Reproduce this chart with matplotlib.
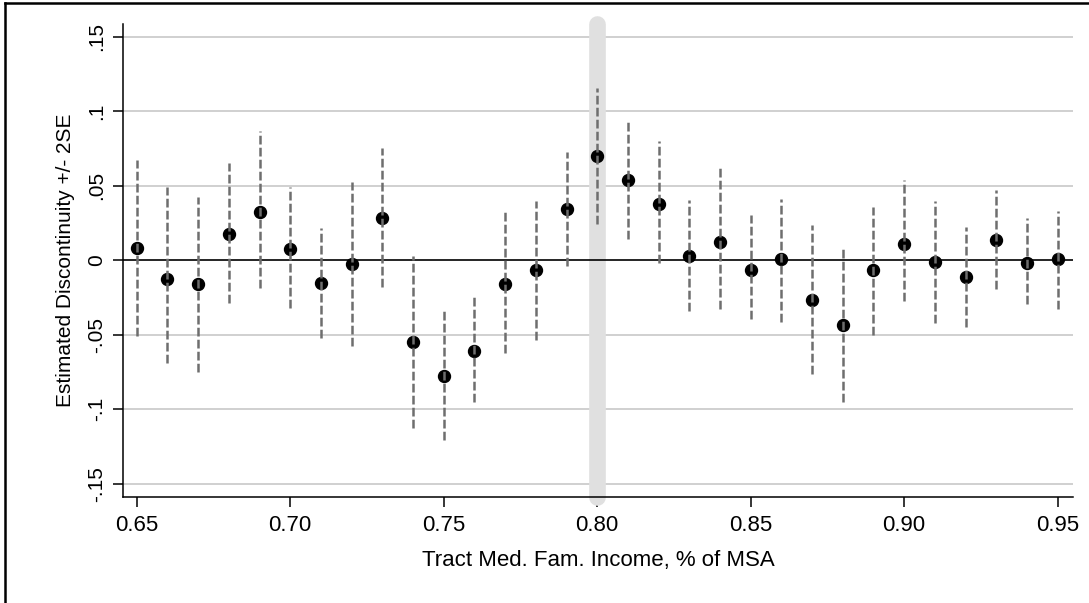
import matplotlib
matplotlib.use('Agg')
import matplotlib.pyplot as plt
from matplotlib.lines import Line2D

# bins of tract income relative to MSA, estimate and +/- 2SE bounds
bins = [0.65, 0.66, 0.67, 0.68, 0.69, 0.70, 0.71, 0.72, 0.73, 0.74, 0.75,
        0.76, 0.77, 0.78, 0.79, 0.80, 0.81, 0.82, 0.83, 0.84, 0.85,
        0.86, 0.87, 0.88, 0.89, 0.90, 0.91, 0.92, 0.93, 0.94, 0.95]
est = [0.0082, -0.0122, -0.0158, 0.0178, 0.0323, 0.0077, -0.0153, -0.0026, 0.0283, -0.0549, -0.0773,
       -0.0607, -0.0158, -0.0068, 0.0346, 0.0703, 0.0540, 0.0379, 0.0030, 0.0126, -0.0068,
       0.0008, -0.0265, -0.0433, -0.0068, 0.0111, -0.0012, -0.0109, 0.0138, -0.0019, 0.0008]
ci_hi = [0.0674, 0.0491, 0.0428, 0.0652, 0.0871, 0.0495, 0.0216, 0.0529, 0.0753, 0.0026, -0.0343,
         -0.0247, 0.0323, 0.0401, 0.0726, 0.1156, 0.0938, 0.0804, 0.0406, 0.0619, 0.0301,
         0.0411, 0.0234, 0.0089, 0.0361, 0.0540, 0.0397, 0.0227, 0.0473, 0.0285, 0.0334]
ci_lo = [-0.0511, -0.0690, -0.0746, -0.0283, -0.0187, -0.0321, -0.0522, -0.0578, -0.0176, -0.1126, -0.1205,
         -0.0952, -0.0619, -0.0534, -0.0037, 0.0245, 0.0142, -0.0019, -0.0343, -0.0328, -0.0395,
         -0.0411, -0.0764, -0.0948, -0.0500, -0.0276, -0.0422, -0.0449, -0.0193, -0.0292, -0.0326]

cutoff = 0.80
yticks = [-0.15, -0.1, -0.05, 0, 0.05, 0.1, 0.15]
ytick_labels = ['-.15', '-.1', '-.05', '0', '.05', '.1', '.15']
xticks = [0.65, 0.70, 0.75, 0.80, 0.85, 0.90, 0.95]

plt.rcParams['font.family'] = ['Liberation Sans', 'DejaVu Sans']

fig = plt.figure(figsize=(10.89, 6.03), dpi=100)
ax = fig.add_axes([0.1129, 0.1763, 0.8724, 0.7839])
ylo, yhi = -0.1586, 0.1586
ax.set_xlim(0.6455, 0.955)
ax.set_ylim(ylo, yhi)

# horizontal grid
for y in yticks:
    if y != 0:
        ax.axhline(y, color='#c8c8c8', lw=1.2, zorder=1)

# cutoff band
ax.plot([cutoff, cutoff], [ylo, yhi], color='#e0e0e0', lw=12, solid_capstyle='round',
        clip_on=False, zorder=2)

ax.axhline(0, color='black', lw=1.2, zorder=3)

# dashes sit on top of the dots in the original
ax.plot(bins, est, 'o', color='black', ms=8.6, zorder=4)
ax.vlines(bins, ci_lo, ci_hi, colors='#6e6e6e', linewidth=1.8,
          linestyles=(0, (3.5, 1.3)), zorder=5)

for s in ['top', 'right']:
    ax.spines[s].set_visible(False)
for s in ['left', 'bottom']:
    ax.spines[s].set_linewidth(1.1)
    ax.spines[s].set_zorder(6)

ax.set_yticks(yticks)
ax.set_yticklabels(ytick_labels, rotation=90, va='center')
ax.set_xticks(xticks)
ax.set_xticklabels([f'{x:.2f}' for x in xticks])
ax.tick_params(axis='both', length=7, width=1.1)
ax.tick_params(axis='y', pad=5, labelsize=15)
ax.tick_params(axis='x', pad=6, labelsize=16)

ax.set_xlabel('Tract Med. Fam. Income, % of MSA', fontsize=16, labelpad=10)
ax.set_ylabel('Estimated Discontinuity +/- 2SE', fontsize=15, labelpad=9)

# outer frame of the original graph (cut off at right and bottom)
W, H = 1089, 603
fig.add_artist(Line2D([4.5 / W, 1.0], [1 - 2.5 / H, 1 - 2.5 / H], color='black', lw=1.8,
                      transform=fig.transFigure))
fig.add_artist(Line2D([4.5 / W, 4.5 / W], [0.0, 1 - 2.5 / H], color='black', lw=1.8,
                      transform=fig.transFigure))

fig.savefig('out.png', dpi=100)
